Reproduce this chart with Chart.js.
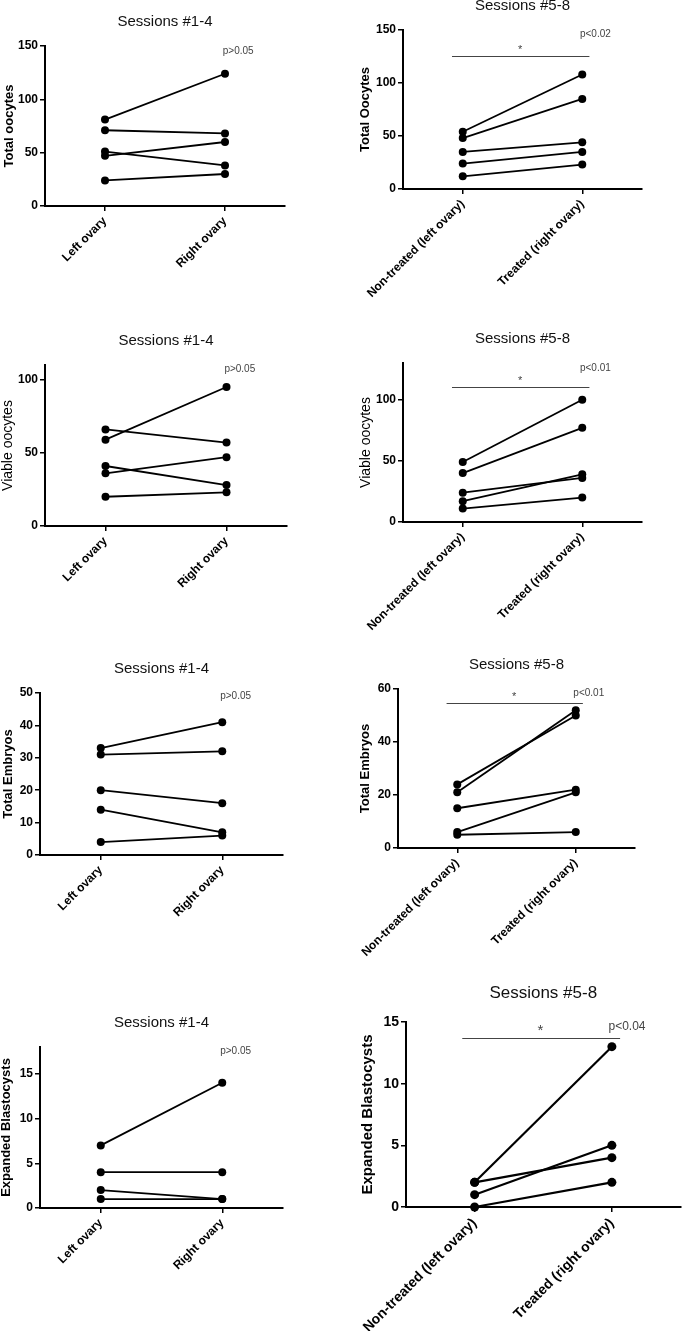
<!DOCTYPE html>
<html>
<head>
<meta charset="utf-8">
<script src="https://cdn.jsdelivr.net/npm/chart.js@4.4.1/dist/chart.umd.min.js"></script>
<style>
  body { margin: 0; background: #fff; width: 685px; height: 1331px; position: relative; overflow: hidden; }
  canvas { position: absolute; }
</style>
</head>
<body>
<canvas id="p1"></canvas>
<canvas id="p2"></canvas>
<canvas id="p3"></canvas>
<canvas id="p4"></canvas>
<canvas id="p5"></canvas>
<canvas id="p6"></canvas>
<canvas id="p7"></canvas>
<canvas id="p8"></canvas>
<script>
// categories
const shortCats = ["Left ovary", "Right ovary"];
const longCats = ["Non-treated (left ovary)", "Treated (right ovary)"];
const catTicks = [0, 1];

// values, one entry per animal (left / right)
const oocytesEarlyLeft = [81, 71, 51, 47, 24];
const oocytesEarlyRight = [124, 68, 38, 60, 30];
const oocytesLateLeft = [54, 48, 35, 24, 12];
const oocytesLateRight = [108, 85, 44, 35, 23];

const viableEarlyLeft = [59, 66, 41, 36, 20];
const viableEarlyRight = [95, 57, 28, 47, 23];
const viableLateLeft = [49, 40, 24, 17, 11];
const viableLateRight = [100, 77, 36, 39, 20];

const embryosEarlyLeft = [33, 31, 20, 14, 4];
const embryosEarlyRight = [41, 32, 16, 7, 6];
const embryosLateLeft = [24, 21, 15, 6, 5];
const embryosLateRight = [50, 52, 22, 21, 6];

const blastoEarlyLeft = [7, 4, 2, 1];
const blastoEarlyRight = [14, 4, 1, 1];
const blastoLateLeft = [2, 2, 1, 0];
const blastoLateRight = [13, 4, 5, 2];

// tick labels
const ticks150 = [0, 50, 100, 150];
const ticks100 = [0, 50, 100];
const ticks50 = [0, 10, 20, 30, 40, 50];
const ticks60 = [0, 20, 40, 60];
const ticks15 = [0, 5, 10, 15];

Chart.defaults.font.family = "Arial, 'Liberation Sans', sans-serif";
Chart.defaults.color = "#000";

const notes = {
  id: "notes",
  afterDatasetsDraw(chart, args, o) {
    const { ctx, chartArea: a, scales: { x, y } } = chart;
    ctx.save();
    ctx.textAlign = "center";
    ctx.textBaseline = "middle";
    ctx.fillStyle = "#111";
    ctx.font = o.titleSize + "px Arial, 'Liberation Sans', sans-serif";
    ctx.fillText(o.title, (a.left + a.right) / 2, a.top - o.titleGap);

    ctx.fillStyle = "#444";
    ctx.font = o.pSize + "px Arial, 'Liberation Sans', sans-serif";
    ctx.fillText(o.pText, x.getPixelForValue(1.11), y.getPixelForValue(o.pY));

    if (o.barY != null) {
      const by = Math.round(y.getPixelForValue(o.barY)) + 0.5;
      ctx.strokeStyle = "#444";
      ctx.lineWidth = 1;
      ctx.beginPath();
      ctx.moveTo(x.getPixelForValue(-0.09), by);
      ctx.lineTo(x.getPixelForValue(1.06), by);
      ctx.stroke();
      ctx.font = o.starSize + "px Arial, 'Liberation Sans', sans-serif";
      ctx.fillText("*", x.getPixelForValue(0.48), by - o.starGap);
    }
    ctx.restore();
  }
};

const panels = [
  { id: "p1", left: 0, top: 0, w: 340, h: 320, plot: [45, 285, 46, 206], yMax: 150, yTicks: ticks150,
    yTitle: "Total oocytes", yBold: true, yTitleSize: 13, yTitleX: 9, cats: shortCats,
    leftVals: oocytesEarlyLeft, rightVals: oocytesEarlyRight, title: "Sessions #1-4", pText: "p>0.05", pY: 145 },
  { id: "p2", left: 340, top: 0, w: 345, h: 320, plot: [63, 302, 30, 189], yMax: 150, yTicks: ticks150,
    yTitle: "Total Oocytes", yBold: true, yTitleSize: 13, yTitleX: 25, cats: longCats,
    leftVals: oocytesLateLeft, rightVals: oocytesLateRight, title: "Sessions #5-8", pText: "p<0.02", pY: 146, barY: 125.5 },
  { id: "p3", left: 0, top: 320, w: 340, h: 320, plot: [45, 287, 45, 206], yMax: 110, yTicks: ticks100,
    yTitle: "Viable oocytes", yBold: false, yTitleSize: 14, yTitleX: 8, cats: shortCats,
    leftVals: viableEarlyLeft, rightVals: viableEarlyRight, title: "Sessions #1-4", pText: "p>0.05", pY: 107 },
  { id: "p4", left: 340, top: 320, w: 345, h: 320, plot: [63, 302, 43, 202], yMax: 130, yTicks: ticks100,
    yTitle: "Viable oocytes", yBold: false, yTitleSize: 14, yTitleX: 26, cats: longCats,
    leftVals: viableLateLeft, rightVals: viableLateRight, title: "Sessions #5-8", pText: "p<0.01", pY: 126, barY: 110 },
  { id: "p5", left: 0, top: 640, w: 340, h: 320, plot: [40, 283, 53, 215], yMax: 50, yTicks: ticks50,
    yTitle: "Total Embryos", yBold: true, yTitleSize: 13, yTitleX: 8, cats: shortCats,
    leftVals: embryosEarlyLeft, rightVals: embryosEarlyRight, title: "Sessions #1-4", pText: "p>0.05", pY: 49 },
  { id: "p6", left: 340, top: 640, w: 345, h: 320, plot: [58, 295, 49, 208], yMax: 60, yTicks: ticks60,
    yTitle: "Total Embryos", yBold: true, yTitleSize: 13, yTitleX: 25, cats: longCats,
    leftVals: embryosLateLeft, rightVals: embryosLateRight, title: "Sessions #5-8", pText: "p<0.01", pY: 58.5, barY: 54.7 },
  { id: "p7", left: 0, top: 960, w: 340, h: 371, plot: [40, 283, 87, 248], yMax: 18, yTicks: ticks15,
    yTitle: "Expanded Blastocysts", yBold: true, yTitleSize: 13, yTitleX: 6, cats: shortCats,
    leftVals: blastoEarlyLeft, rightVals: blastoEarlyRight, title: "Sessions #1-4", pText: "p>0.05", pY: 17.5 },
  { id: "p8", left: 340, top: 960, w: 345, h: 371, plot: [66, 343, 62, 247], yMax: 15, yTicks: ticks15,
    yTitle: "Expanded Blastocysts", yBold: true, yTitleSize: 15, yTitleX: 28, cats: longCats,
    leftVals: blastoLateLeft, rightVals: blastoLateRight, title: "Sessions #5-8", pText: "p<0.04", pY: 14.6, barY: 13.7,
    big: true }
];

panels.forEach(p => {
  const canvas = document.getElementById(p.id);
  canvas.width = p.w;
  canvas.height = p.h;
  canvas.style.left = p.left + "px";
  canvas.style.top = p.top + "px";

  const big = !!p.big;
  const [pl, pr, pt, pb] = p.plot;

  const datasets = p.leftVals.map((v, i) => ({
    data: [{ x: 0, y: v }, { x: 1, y: p.rightVals[i] }],
    borderColor: "#000",
    backgroundColor: "#000",
    borderWidth: big ? 2.2 : 1.8,
    pointRadius: big ? 4.5 : 4,
    pointBorderWidth: 0,
    clip: false
  }));

  new Chart(canvas, {
    type: "line",
    data: { datasets },
    options: {
      responsive: false,
      animation: false,
      devicePixelRatio: 1,
      layout: { padding: { top: pt, right: p.w - pr, left: 0, bottom: 0 } },
      plugins: {
        legend: { display: false },
        tooltip: { enabled: false },
        notes: {
          title: p.title,
          titleSize: big ? 17 : 15,
          titleGap: big ? 29 : 24,
          pText: p.pText,
          pSize: big ? 12 : 10,
          pY: p.pY,
          barY: p.barY,
          starSize: big ? 15 : 11,
          starGap: big ? 8 : 7
        }
      },
      scales: {
        x: {
          type: "linear",
          min: -0.5,
          max: 1.5,
          afterBuildTicks: s => { s.ticks = catTicks.map(v => ({ value: v })); },
          afterFit: s => { s.height = p.h - pb; },
          ticks: {
            minRotation: 45,
            maxRotation: 45,
            padding: 3,
            font: { size: big ? 14 : 12, weight: "bold" },
            callback: v => p.cats[v]
          },
          grid: { drawOnChartArea: false, drawTicks: true, tickLength: 5, color: "#000", lineWidth: 1.5 },
          border: { color: "#000", width: 2 }
        },
        y: {
          min: 0,
          max: p.yMax,
          afterBuildTicks: s => { s.ticks = p.yTicks.map(v => ({ value: v })); },
          afterFit: s => { s.width = pl; },
          ticks: {
            padding: 2,
            font: { size: big ? 14 : 12, weight: "bold" }
          },
          grid: { drawOnChartArea: false, drawTicks: true, tickLength: 5, color: "#000", lineWidth: 1.5 },
          border: { color: "#000", width: 2 },
          title: {
            display: true,
            text: p.yTitle,
            color: "#000",
            padding: { top: p.yTitleX - p.yTitleSize * 0.6, bottom: 0 },
            font: { size: p.yTitleSize, weight: p.yBold ? "bold" : "normal" }
          }
        }
      }
    },
    plugins: [notes]
  });
});
</script>
</body>
</html>
